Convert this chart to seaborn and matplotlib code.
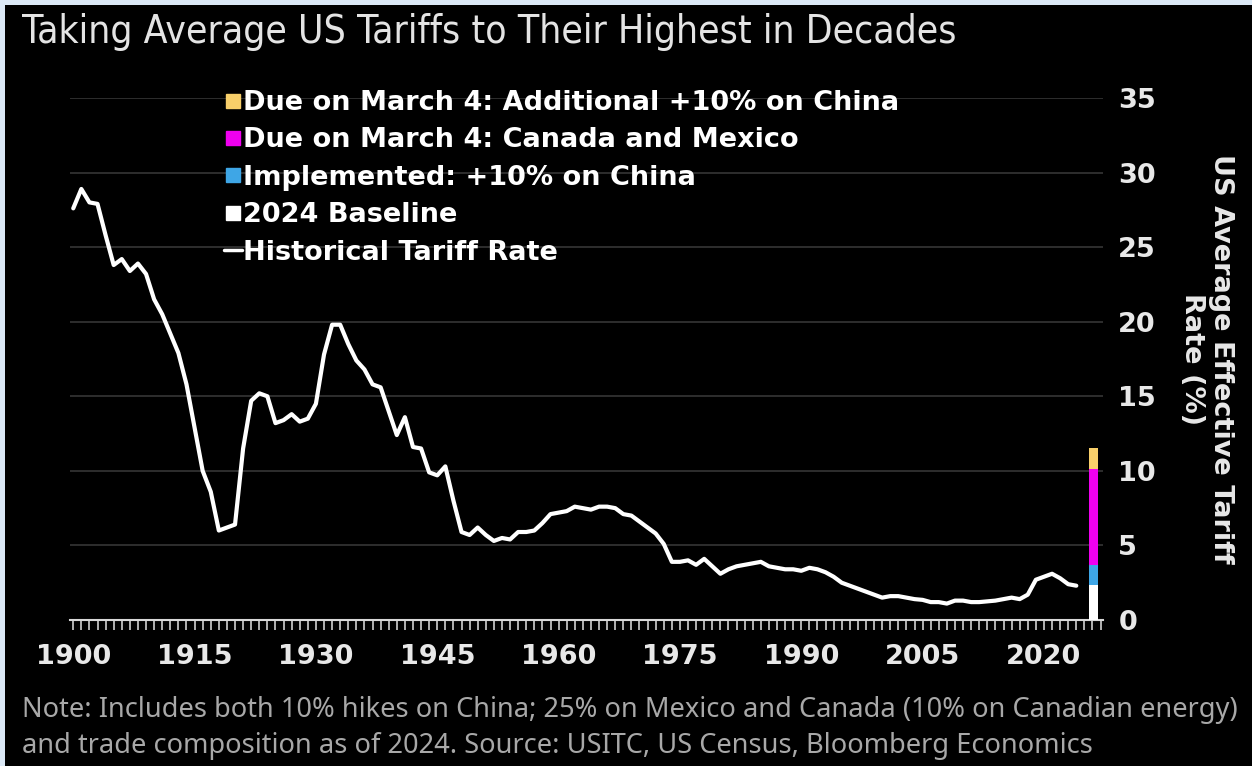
import numpy as np
import pandas as pd
import matplotlib
matplotlib.use("Agg")
import matplotlib.pyplot as plt
from matplotlib.lines import Line2D
from matplotlib.patches import Rectangle
import seaborn as sns

# ---------------- data ----------------
years = list(range(1900, 2025))
tariff_rate = [
    27.6, 28.9, 28.0, 27.9, 25.8, 23.8, 24.2, 23.4, 23.9, 23.2,   # 1900s
    21.5, 20.5, 19.2, 17.9, 15.8, 12.9, 10.0, 8.6, 6.0, 6.2,      # 1910s
    6.4, 11.5, 14.7, 15.2, 15.0, 13.2, 13.4, 13.8, 13.3, 13.5,    # 1920s
    14.5, 17.8, 19.8, 19.8, 18.5, 17.4, 16.8, 15.8, 15.6, 14.0,   # 1930s
    12.4, 13.6, 11.6, 11.5, 9.9, 9.7, 10.3, 8.0, 5.9, 5.7,        # 1940s
    6.2, 5.7, 5.3, 5.5, 5.4, 5.9, 5.9, 6.0, 6.5, 7.1,             # 1950s
    7.2, 7.3, 7.6, 7.5, 7.4, 7.6, 7.6, 7.5, 7.1, 7.0,             # 1960s
    6.6, 6.2, 5.8, 5.1, 3.9, 3.9, 4.0, 3.7, 4.1, 3.6,             # 1970s
    3.1, 3.4, 3.6, 3.7, 3.8, 3.9, 3.6, 3.5, 3.4, 3.4,             # 1980s
    3.3, 3.5, 3.4, 3.2, 2.9, 2.5, 2.3, 2.1, 1.9, 1.7,             # 1990s
    1.5, 1.6, 1.6, 1.5, 1.4, 1.35, 1.2, 1.2, 1.1, 1.3,            # 2000s
    1.3, 1.2, 1.2, 1.25, 1.3, 1.4, 1.5, 1.4, 1.7, 2.7,            # 2010s
    2.9, 3.1, 2.8, 2.4, 2.3,                                      # 2020s
]

stack_labels = ["2024 Baseline", "Implemented: +10% on China",
                "Due on March 4: Canada and Mexico",
                "Due on March 4: Additional +10% on China"]
stack_values = [2.35, 1.35, 6.4, 1.4]
stack_colors = ["#ffffff", "#3ea6e6", "#f000f0", "#f8cf6a"]
bar_year = 2026.1

x_tick_years = [1900, 1915, 1930, 1945, 1960, 1975, 1990, 2005, 2020]
y_ticks = [0, 5, 10, 15, 20, 25, 30, 35]

title = "Taking Average US Tariffs to Their Highest in Decades"
note = ("Note: Includes both 10% hikes on China; 25% on Mexico and Canada (10% on Canadian energy)\n"
        "and trade composition as of 2024. Source: USITC, US Census, Bloomberg Economics")

# ---------------- figure ----------------
sns.set_theme(style="dark")
plt.rcParams["font.family"] = ["DejaVu Sans"]

W, H = 1252, 766
fig = plt.figure(figsize=(W / 100, H / 100), dpi=100)
fig.patch.set_facecolor("#dce9f6")
fig.add_artist(Rectangle((5 / W, 0), 1 - 5 / W, 1 - 5 / H, transform=fig.transFigure,
                         facecolor="black", edgecolor="none", zorder=-10))

ax = fig.add_axes([70 / W, 146 / H, 1033 / W, 522 / H])
ax.set_facecolor("black")

df = pd.DataFrame({"year": years, "rate": tariff_rate})
sns.lineplot(data=df, x="year", y="rate", ax=ax, color="white", linewidth=3.0, zorder=3)

bottom = 0.0
for lab, v, c in zip(stack_labels, stack_values, stack_colors):
    ax.bar(bar_year, v, bottom=bottom, width=1.1, color=c, edgecolor="none", zorder=4)
    bottom += v

ax.set_xlim(1899.6, 2027.3)
ax.set_ylim(0, 35)

# grid
ax.grid(False)
for yv in y_ticks[1:]:
    ax.axhline(yv, color="#2e2e2e", linewidth=1.4, zorder=1)

# spines
for s in ["top", "left", "right"]:
    ax.spines[s].set_visible(False)
ax.spines["bottom"].set_color("#d8d8d8")
ax.spines["bottom"].set_linewidth(1.5)

TXT = "#e8e8e8"
# x ticks
ax.set_xticks(x_tick_years)
ax.set_xticklabels([str(y) for y in x_tick_years], fontsize=19.5, fontweight="bold", color=TXT)
ax.set_xticks(np.arange(1900, 2028, 1), minor=True)
ax.tick_params(axis="x", which="both", direction="out", length=7, width=1.2, color="#cfcfcf",
               bottom=True, pad=10)

# y ticks on right
ax.yaxis.tick_right()
ax.set_yticks(y_ticks)
ax.set_yticklabels([str(v) for v in y_ticks], fontsize=19.5, fontweight="bold", color=TXT)
ax.tick_params(axis="y", length=0, pad=11, right=True, left=False)
ax.yaxis.set_label_position("right")
ax.set_ylabel("US Average Effective Tariff\nRate (%)", rotation=270, fontsize=19.5,
              fontweight="bold", color=TXT, labelpad=56, linespacing=1.15)
ax.set_xlabel("")

# legend
handles = [Line2D([], [], marker="s", linestyle="none", color=c, markersize=10)
           for c in stack_colors[::-1]]
handles.append(Line2D([], [], color="white", linewidth=2.5))
labels = stack_labels[::-1] + ["Historical Tariff Rate"]
leg = ax.legend(handles, labels, loc="upper left", bbox_to_anchor=(224 / W, 1 - 90 / H),
                bbox_transform=fig.transFigure, frameon=False, fontsize=19.5,
                handlelength=0.65, handletextpad=0.05, labelspacing=0.42, borderpad=0,
                borderaxespad=0)
for t in leg.get_texts():
    t.set_color("white")
    t.set_fontweight("bold")

# title and note
fig.text(22 / W, 1 - 32 / H, title, ha="left", va="center", fontsize=28, color="#e4e4e4",
         family="DejaVu Sans", fontstretch="condensed", fontweight="normal")
fig.text(22 / W, 1 - 696 / H, note, ha="left", va="top", fontsize=19.6, color="#a8a8a8",
         family=["Noto Sans", "DejaVu Sans"], linespacing=1.4)

fig.savefig("out.png", dpi=100, facecolor=fig.get_facecolor())
